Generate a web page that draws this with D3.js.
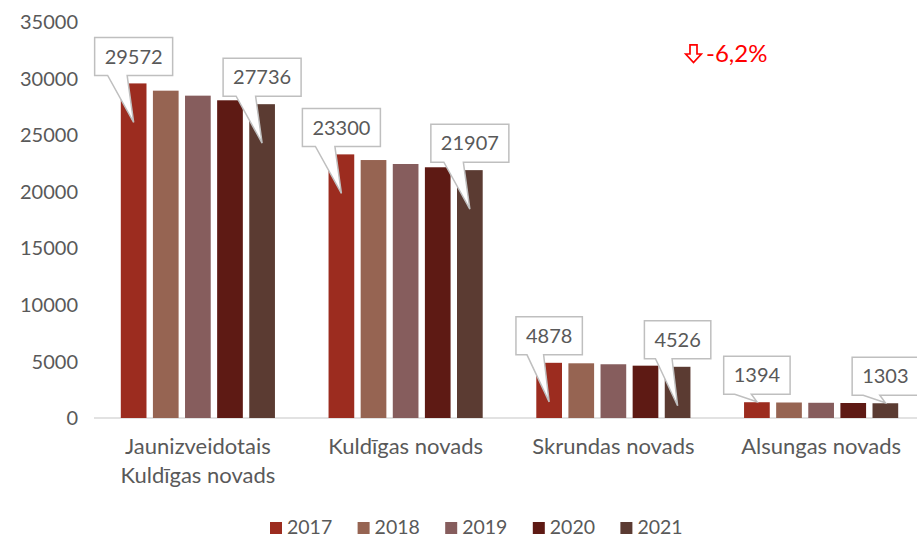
<!DOCTYPE html>
<html>
<head>
<meta charset="utf-8">
<script src="https://cdn.jsdelivr.net/npm/d3@7"></script>
<style>
  body { margin: 0; background: #fff; }
  text { font-family: Lato, "Open Sans", sans-serif; }
</style>
</head>
<body>
<div id="chart"></div>
<script>
// chart values
var categories = ["Jaunizveidotais\nKuldīgas novads", "Kuldīgas novads", "Skrundas novads", "Alsungas novads"];
var years = ["2017", "2018", "2019", "2020", "2021"];
var values2017 = [29572, 23300, 4878, 1394];
var values2018 = [28930, 22800, 4835, 1370];
var values2019 = [28490, 22450, 4750, 1345];
var values2020 = [28080, 22160, 4625, 1325];
var values2021 = [27736, 21907, 4526, 1303];
var yTicks = [0, 5000, 10000, 15000, 20000, 25000, 30000, 35000];
var labelledYears = ["2017", "2021"];
var changeLabel = "-6,2%";

var colors = ["#9c2c1f", "#966452", "#865d5d", "#5e1a14", "#5b3b32"];
var seriesValues = [values2017, values2018, values2019, values2020, values2021];

var width = 917;
var height = 538;
var textColor = "#595959";

var svg = d3.select("#chart").append("svg")
    .attr("width", width)
    .attr("height", height);

var y = d3.scaleLinear().domain([0, 35000]).range([418, 22]);

var x0 = d3.scaleBand().domain(categories).range([94, 925]).paddingInner(0);
var groupPad = 26.8;
var x1 = d3.scaleBand().domain(years)
    .range([groupPad, x0.bandwidth() - groupPad])
    .paddingInner(0.2);

// y axis labels
svg.append("g").selectAll("text")
    .data(yTicks).enter()
    .append("text")
    .attr("x", 78)
    .attr("y", function (d) { return y(d); })
    .attr("dy", "0.36em")
    .attr("text-anchor", "end")
    .attr("font-size", "20px")
    .attr("fill", textColor)
    .text(function (d) { return d; });

// baseline
svg.append("line")
    .attr("x1", 94).attr("x2", width)
    .attr("y1", y(0)).attr("y2", y(0))
    .attr("stroke", "#d9d9d9")
    .attr("stroke-width", 1.5);

// bars
var rows = [];
categories.forEach(function (c, ci) {
    years.forEach(function (yr, yi) {
        rows.push({ cat: c, year: yr, value: seriesValues[yi][ci], color: colors[yi] });
    });
});

svg.append("g").selectAll("rect")
    .data(rows).enter()
    .append("rect")
    .attr("x", function (d) { return x0(d.cat) + x1(d.year); })
    .attr("y", function (d) { return y(d.value); })
    .attr("width", x1.bandwidth())
    .attr("height", function (d) { return y(0) - y(d.value); })
    .attr("fill", function (d) { return d.color; });

// category labels
var catG = svg.append("g");
categories.forEach(function (c) {
    var lines = c.split("\n");
    var t = catG.append("text")
        .attr("text-anchor", "middle")
        .attr("font-size", "22px")
        .attr("fill", textColor);
    lines.forEach(function (ln, i) {
        t.append("tspan")
            .attr("x", x0(c) + x0.bandwidth() / 2)
            .attr("y", 454 + i * 29)
            .text(ln);
    });
});

// callout labels
var calloutG = svg.append("g");
rows.filter(function (d) { return labelledYears.indexOf(d.year) >= 0; })
    .forEach(function (d) {
        var cx = x0(d.cat) + x1(d.year) + x1.bandwidth() / 2;
        var top = y(d.value);
        var barH = y(0) - top;
        var tipY = barH > 40 ? top + 39 : top - 0.5;

        var g = calloutG.append("g");
        var path = g.append("path");
        var label = g.append("text")
            .attr("text-anchor", "middle")
            .attr("font-size", "20px")
            .attr("fill", textColor)
            .text(d.value);
        var tw = label.node().getComputedTextLength();
        var w = tw + 20;
        var h = 38;
        var bottom = top - 8;
        var left = cx - w / 2;
        var boxTop = bottom - h;

        label.attr("x", cx).attr("y", boxTop + h / 2).attr("dy", "0.36em");

        var p = d3.path();
        p.moveTo(left, boxTop);
        p.lineTo(left + w, boxTop);
        p.lineTo(left + w, bottom);
        p.lineTo(left + w * 5 / 12, bottom);
        p.lineTo(cx, tipY);
        p.lineTo(left + w * 2 / 12, bottom);
        p.lineTo(left, bottom);
        p.closePath();

        path.attr("d", p.toString())
            .attr("fill", "#fff")
            .attr("stroke", "#bfbfbf")
            .attr("stroke-width", 1.5)
            .attr("stroke-linejoin", "miter");
    });

// change annotation: outlined down arrow + percentage
var ann = svg.append("g").attr("transform", "translate(685,44)");
ann.append("path")
    .attr("d", "M5,0.8 H12 V10 H16.3 L8.5,18.6 L0.7,10 H5 Z")
    .attr("fill", "none")
    .attr("stroke", "#ff0000")
    .attr("stroke-width", 1.7);
ann.append("text")
    .attr("x", 21)
    .attr("y", 18.3)
    .attr("font-size", "24px")
    .attr("fill", "#ff0000")
    .text(changeLabel);

// legend
var legend = svg.append("g");
years.forEach(function (yr, i) {
    var lx = 270 + i * 87.6;
    legend.append("rect")
        .attr("x", lx).attr("y", 522)
        .attr("width", 12).attr("height", 12)
        .attr("fill", colors[i]);
    legend.append("text")
        .attr("x", lx + 17)
        .attr("y", 533.5)
        .attr("font-size", "19.5px")
        .attr("fill", textColor)
        .text(yr);
});
</script>
</body>
</html>
